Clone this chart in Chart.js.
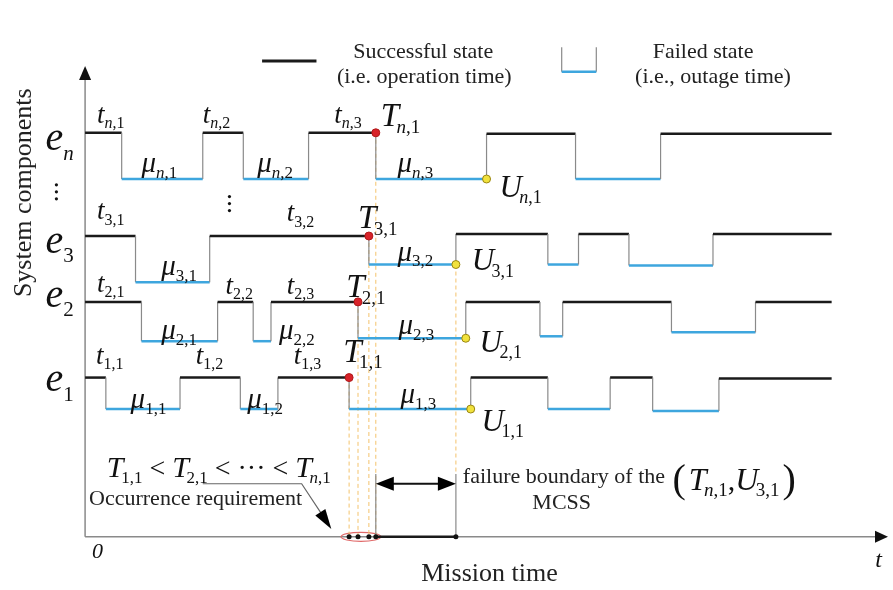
<!DOCTYPE html>
<html>
<head>
<meta charset="utf-8">
<script src="https://cdn.jsdelivr.net/npm/chart.js@4"></script>
<style>
  html, body { margin: 0; padding: 0; background: #fff; }
  canvas { display: block; }
</style>
</head>
<body>
<canvas id="myChart" width="893" height="590"></canvas>
<script>
// switching instants of every component (mission time), first = 0, last = end of horizon
var timesN  = [0, 37, 119, 160, 226, 294, 406, 496, 582, 755];
var levelsN = [411, 364, 411, 364, 411, 364, 410, 364, 410];
var times3  = [0, 51, 126, 287, 375, 468, 499, 550, 635, 755];
var levels3 = [306, 259, 306, 277, 308, 277, 308, 276, 308];
var times2  = [0, 57, 134, 170, 188, 276, 385, 460, 483, 593, 678, 755];
var levels2 = [239, 199, 239, 199, 239, 202, 239, 204, 239, 208, 239];
var times1  = [0, 21, 96, 157, 195, 267, 390, 468, 531, 574, 641, 755];
var levels1 = [162, 130, 162, 130, 162, 130, 162, 130, 162, 128, 161];

// index of the switch where the first failure (T_i,1) happens in each row
var rowNames = ['n', '3', '2', '1'];
var rowTimes = [timesN, times3, times2, times1];
var rowLevels = [levelsN, levels3, levels2, levels1];
var failIdx = [5, 3, 5, 5];

var boundaryTop = 64;

var blue = '#3ea6de';
var black = '#1a1a1a';
var gray = '#8a8a8a';
var dashCol = '#f4c36c';

// build the step line points
function stepPoints(times, levels) {
    var pts = [];
    for (var k = 0; k < levels.length; k++) {
        pts.push({ x: times[k], y: levels[k] });
        pts.push({ x: times[k + 1], y: levels[k] });
    }
    return pts;
}

var tPoints = [], uPoints = [];
for (var r = 0; r < rowTimes.length; r++) {
    var i = failIdx[r];
    tPoints.push({ x: rowTimes[r][i], y: rowLevels[r][i - 1] });
    uPoints.push({ x: rowTimes[r][i + 1], y: rowLevels[r][i] });
}
var tMax = Math.max.apply(null, tPoints.map(function (p) { return p.x; }));
var uMin = Math.min.apply(null, uPoints.map(function (p) { return p.x; }));
var uMinPt = uPoints.filter(function (p) { return p.x === uMin; })[0];

var datasets = [];
datasets.push({ data: tPoints, pointRadius: 4, pointBackgroundColor: '#d8232a', pointBorderColor: '#b01818', pointBorderWidth: 1, showLine: false, order: 0 });
datasets.push({ data: uPoints, pointRadius: 4, pointBackgroundColor: '#f1e23c', pointBorderColor: '#9a8612', pointBorderWidth: 1, showLine: false, order: 0 });
datasets.push({ data: tPoints.map(function (p) { return { x: p.x, y: 0 }; }).concat([{ x: uMin, y: 0 }]), pointRadius: 2.5, pointBackgroundColor: '#111', pointBorderWidth: 0, showLine: false, order: 0 });

rowTimes.forEach(function (times, r) {
    datasets.push({
        data: stepPoints(times, rowLevels[r]),
        showLine: true, pointRadius: 0, order: 1,
        borderColor: black,
        segment: {
            borderColor: function (c) {
                if (c.p0DataIndex % 2 === 1) return gray;
                return (c.p0DataIndex / 2) % 2 === 0 ? black : blue;
            },
            borderWidth: function (c) { return c.p0DataIndex % 2 === 1 ? 1.2 : 2.5; }
        }
    });
});

tPoints.forEach(function (p) {
    datasets.push({ data: [{ x: p.x, y: p.y }, { x: p.x, y: 0 }], showLine: true, pointRadius: 0, borderColor: dashCol, borderWidth: 1, borderDash: [4, 3], order: 2 });
});
datasets.push({ data: [{ x: uMin, y: uMinPt.y }, { x: uMin, y: boundaryTop }], showLine: true, pointRadius: 0, borderColor: dashCol, borderWidth: 1, borderDash: [4, 3], order: 2 });
datasets.push({ data: [{ x: tMax, y: 0 }, { x: tMax, y: boundaryTop }], showLine: true, pointRadius: 0, borderColor: gray, borderWidth: 1.2, order: 1 });
datasets.push({ data: [{ x: uMin, y: 0 }, { x: uMin, y: boundaryTop }], showLine: true, pointRadius: 0, borderColor: gray, borderWidth: 1.2, order: 1 });
datasets.push({ data: [{ x: tMax, y: 0 }, { x: uMin, y: 0 }], showLine: true, pointRadius: 0, borderColor: black, borderWidth: 2.5, order: 1 });

// text labels: [base, subscript, x, baseline y, size]
var mathLabels = [
    ['t', 'n,1', 12, 421, 27], ['t', 'n,2', 119, 421, 27], ['t', 'n,3', 252, 421, 27], ['T', 'n,1', 299, 418, 33],
    ['\u03bc', 'n,1', 57, 371, 29], ['\u03bc', 'n,2', 174, 371, 29], ['\u03bc', 'n,3', 316, 371, 29], ['U', 'n,1', 419, 346, 31],
    ['t', '3,1', 12, 323, 27], ['t', '3,2', 204, 321, 27], ['T', '3,1', 276, 314, 33],
    ['\u03bc', '3,1', 77, 266, 29], ['\u03bc', '3,2', 316, 281, 29], ['U', '3,1', 391, 271, 31],
    ['t', '2,1', 12, 249, 27], ['t', '2,2', 142, 247, 27], ['t', '2,3', 204, 247, 27], ['T', '2,1', 264, 244, 33],
    ['\u03bc', '2,1', 77, 201, 29], ['\u03bc', '2,2', 196, 201, 29], ['\u03bc', '2,3', 317, 206, 29], ['U', '2,1', 399, 188, 31],
    ['t', '1,1', 11, 176, 27], ['t', '1,2', 112, 176, 27], ['t', '1,3', 211, 176, 27], ['T', '1,1', 261, 178, 33],
    ['\u03bc', '1,1', 46, 131, 29], ['\u03bc', '1,2', 164, 131, 29], ['\u03bc', '1,3', 319, 136, 29], ['U', '1,1', 401, 108, 31],
    ['e', 'n', -40, 393, 40], ['e', '3', -40, 289, 40], ['e', '2', -40, 234, 40], ['e', '1', -40, 148, 40]
];
var vdots = [[-29, 351], [146, 339]];

var SERIF = '"Liberation Serif", "Times New Roman", serif';

function drawSub(ctx, x, y, sub, s) {
    for (var k = 0; k < sub.length; k++) {
        var ch = sub[k];
        ctx.font = (/[a-z]/.test(ch) ? 'italic ' : '') + s + 'px ' + SERIF;
        ctx.fillText(ch, x, y);
        x += ctx.measureText(ch).width;
    }
    return x;
}

function drawMath(ctx, x, y, base, sub, size) {
    ctx.font = 'italic ' + size + 'px ' + SERIF;
    ctx.fillText(base, x, y);
    var w = ctx.measureText(base).width;
    var shift = (base === 'T' || base === 'U') ? -size * 0.08 : 0;
    var isE = base === 'e';
    var s = Math.round(size * (isE ? 0.52 : 0.58));
    return drawSub(ctx, x + w + shift, y + size * (isE ? 0.24 : 0.2), sub, s);
}

function arrowHead(ctx, x0, y0, x1, y1, len, half) {
    var a = Math.atan2(y1 - y0, x1 - x0);
    ctx.beginPath();
    ctx.moveTo(x1, y1);
    ctx.lineTo(x1 - len * Math.cos(a) + half * Math.sin(a), y1 - len * Math.sin(a) - half * Math.cos(a));
    ctx.lineTo(x1 - len * Math.cos(a) - half * Math.sin(a), y1 - len * Math.sin(a) + half * Math.cos(a));
    ctx.closePath();
    ctx.fill();
}

var sketchPlugin = {
    id: 'sketch',
    beforeDatasetsDraw: function (chart) {
        var ctx = chart.ctx, X = chart.scales.x, Y = chart.scales.y;
        var px = function (v) { return X.getPixelForValue(v); };
        var py = function (v) { return Y.getPixelForValue(v); };
        ctx.save();
        // axes
        ctx.strokeStyle = gray; ctx.lineWidth = 1.5; ctx.fillStyle = '#111';
        ctx.beginPath();
        ctx.moveTo(px(0), py(0)); ctx.lineTo(px(800), py(0));
        ctx.moveTo(px(0), py(0)); ctx.lineTo(px(0), py(466));
        ctx.stroke();
        arrowHead(ctx, px(0), py(0), px(812), py(0), 13, 6);
        arrowHead(ctx, px(0), py(0), px(0), py(479), 14, 6);
        // occurrence ellipse
        ctx.strokeStyle = '#e06a6a'; ctx.lineWidth = 1.2;
        ctx.beginPath();
        ctx.ellipse(px(279), py(0), 20, 4.5, 0, 0, Math.PI * 2);
        ctx.stroke();
        ctx.restore();
    },
    afterDatasetsDraw: function (chart) {
        var ctx = chart.ctx, X = chart.scales.x, Y = chart.scales.y;
        var px = function (v) { return X.getPixelForValue(v); };
        var py = function (v) { return Y.getPixelForValue(v); };
        ctx.save();
        ctx.fillStyle = '#111';
        ctx.textBaseline = 'alphabetic';
        ctx.textAlign = 'left';
        mathLabels.forEach(function (l) { drawMath(ctx, px(l[2]), py(l[3]), l[0], l[1], l[4]); });
        vdots.forEach(function (d) {
            for (var k = 0; k < 3; k++) {
                ctx.beginPath(); ctx.arc(px(d[0]), py(d[1]) - 7 + k * 7, 1.6, 0, Math.PI * 2); ctx.fill();
            }
        });

        // legend
        ctx.strokeStyle = black; ctx.lineWidth = 3;
        ctx.beginPath(); ctx.moveTo(px(179), py(484)); ctx.lineTo(px(234), py(484)); ctx.stroke();
        ctx.strokeStyle = gray; ctx.lineWidth = 1.2;
        ctx.beginPath();
        ctx.moveTo(px(482), py(498)); ctx.lineTo(px(482), py(473));
        ctx.moveTo(px(517), py(498)); ctx.lineTo(px(517), py(473));
        ctx.stroke();
        ctx.strokeStyle = blue; ctx.lineWidth = 2.5;
        ctx.beginPath(); ctx.moveTo(px(482), py(473)); ctx.lineTo(px(517), py(473)); ctx.stroke();

        ctx.font = '22px ' + SERIF;
        ctx.textAlign = 'center'; ctx.textBaseline = 'middle';
        ctx.fillStyle = '#222';
        ctx.fillText('Successful state', px(342), py(493));
        ctx.fillText('(i.e. operation time)', px(343), py(468));
        ctx.fillText('Failed state', px(625), py(493));
        ctx.fillText('(i.e., outage time)', px(635), py(468));
        ctx.fillText('MCSS', px(482), py(34));
        ctx.textAlign = 'left';
        ctx.fillText('Occurrence requirement', px(4), py(38));
        ctx.fillText('failure boundary of the', px(382), py(61));

        ctx.font = '26px ' + SERIF;
        ctx.textAlign = 'center';
        ctx.fillText('Mission time', px(409), py(-38));
        ctx.save();
        ctx.translate(px(-62), py(350));
        ctx.rotate(-Math.PI / 2);
        ctx.fillText('System components', 0, 0);
        ctx.restore();

        ctx.font = 'italic 22px ' + SERIF;
        ctx.fillStyle = '#111';
        ctx.textAlign = 'left';
        ctx.fillText('0', px(7), py(-16));
        ctx.font = 'italic 24px ' + SERIF;
        ctx.fillText('t', px(799), py(-24));

        // occurrence requirement inequality
        ctx.textBaseline = 'alphabetic';
        var x = px(22), yb = py(61);
        x = drawMath(ctx, x, yb, 'T', '1,1', 30);
        ctx.font = '28px ' + SERIF; ctx.fillText(' < ', x, yb); x += ctx.measureText(' < ').width;
        x = drawMath(ctx, x, yb, 'T', '2,1', 30);
        ctx.font = '28px ' + SERIF; ctx.fillText(' < \u00b7\u00b7\u00b7 < ', x, yb); x += ctx.measureText(' < \u00b7\u00b7\u00b7 < ').width;
        drawMath(ctx, x, yb, 'T', 'n,1', 30);

        // boundary pair
        x = px(594); yb = py(48);
        ctx.font = '40px ' + SERIF; ctx.fillText('(', x, yb + 2); x += ctx.measureText('(').width + 3;
        x = drawMath(ctx, x, yb, 'T', 'n,1', 32);
        ctx.font = '30px ' + SERIF; ctx.fillText(',', x, yb); x += ctx.measureText(',').width;
        x = drawMath(ctx, x, yb, 'U', '3,1', 32);
        ctx.font = '40px ' + SERIF; ctx.fillText(')', x + 3, yb + 2);

        // leader line and arrows
        ctx.strokeStyle = '#666'; ctx.lineWidth = 1.2;
        ctx.beginPath();
        ctx.moveTo(px(119), py(54)); ctx.lineTo(px(219), py(54)); ctx.lineTo(px(246), py(13));
        ctx.stroke();
        ctx.fillStyle = '#000';
        arrowHead(ctx, px(219), py(54), px(249), py(8), 20, 6);

        ctx.strokeStyle = '#111'; ctx.lineWidth = 2;
        ctx.beginPath(); ctx.moveTo(px(tMax + 8), py(54)); ctx.lineTo(px(uMin - 8), py(54)); ctx.stroke();
        arrowHead(ctx, px(uMin), py(54), px(tMax), py(54), 18, 7);
        arrowHead(ctx, px(tMax), py(54), px(uMin), py(54), 18, 7);
        ctx.restore();
    }
};

var chart = new Chart(document.getElementById('myChart').getContext('2d'), {
    type: 'scatter',
    data: { datasets: datasets },
    options: {
        responsive: false,
        devicePixelRatio: 1,
        animation: false,
        layout: { padding: 0 },
        plugins: { legend: { display: false }, tooltip: { enabled: false } },
        scales: {
            x: { type: 'linear', min: -81, max: 812, display: false },
            y: { type: 'linear', min: -49, max: 541, display: false }
        }
    },
    plugins: [sketchPlugin]
});
</script>
</body>
</html>
